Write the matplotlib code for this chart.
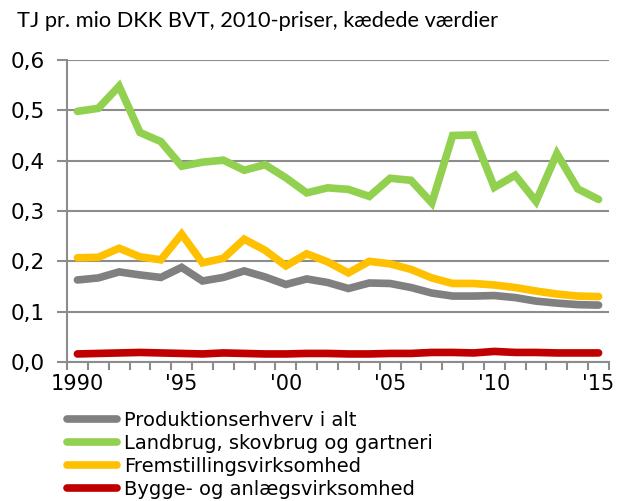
import numpy as np
import matplotlib
matplotlib.use("Agg")
import matplotlib.pyplot as plt

# data
years = list(range(1990, 2016))

produktion = [0.163, 0.167, 0.179, 0.173, 0.168, 0.188, 0.161, 0.168, 0.181, 0.169,
              0.154, 0.165, 0.158, 0.146, 0.157, 0.156, 0.148, 0.137, 0.131, 0.131,
              0.132, 0.128, 0.121, 0.117, 0.114, 0.113]
landbrug = [0.498, 0.504, 0.548, 0.456, 0.438, 0.389, 0.397, 0.401, 0.381, 0.392,
            0.366, 0.336, 0.346, 0.343, 0.329, 0.365, 0.361, 0.316, 0.450, 0.451,
            0.347, 0.371, 0.319, 0.414, 0.344, 0.323]
fremstilling = [0.207, 0.208, 0.226, 0.209, 0.203, 0.254, 0.197, 0.206, 0.244, 0.222,
                0.191, 0.215, 0.199, 0.177, 0.200, 0.195, 0.184, 0.167, 0.156, 0.156,
                0.153, 0.148, 0.141, 0.135, 0.131, 0.130]
bygge = [0.016, 0.017, 0.018, 0.019, 0.018, 0.017, 0.016, 0.018, 0.017, 0.016,
         0.016, 0.017, 0.017, 0.016, 0.016, 0.017, 0.017, 0.019, 0.019, 0.018,
         0.021, 0.019, 0.019, 0.018, 0.018, 0.018]

series_labels = ['Produktionserhverv i alt', 'Landbrug, skovbrug og gartneri',
                 'Fremstillingsvirksomhed', 'Bygge- og anlægsvirksomhed']
colors = ['#808080', '#92D050', '#FFC000', '#C00000']

tick_years = [1990, 1995, 2000, 2005, 2010, 2015]
tick_labels = ['1990', "'95", "'00", "'05", "'10", "'15"]
y_ticks = [0.0, 0.1, 0.2, 0.3, 0.4, 0.5, 0.6]

plt.rcParams['font.family'] = 'DejaVu Sans'

fig = plt.figure(figsize=(6.22, 5.01), dpi=100)
ax = fig.add_axes([67 / 622, 1 - 362 / 501, (609 - 67) / 622, (362 - 60) / 501])

grid_col = '#8c8c8c'
for vals, lab, col in zip([produktion, landbrug, fremstilling, bygge], series_labels, colors):
    ax.plot(years, vals, color=col, lw=5.5, label=lab,
            solid_capstyle='round', solid_joinstyle='miter', zorder=3)

ax.set_xlim(1989.5, 2015.5)
ax.set_ylim(0, 0.6)
ax.set_yticks(y_ticks)
ax.set_yticklabels([f'{v:.1f}'.replace('.', ',') for v in y_ticks])
ax.yaxis.grid(True, color=grid_col, lw=1.5, zorder=1)

ax.set_xticks(tick_years)
ax.set_xticklabels(tick_labels)
ax.set_xticks(np.arange(1989.5, 2016, 1), minor=True)
ax.tick_params(axis='x', which='major', length=0, pad=9, labelsize=15)
ax.tick_params(axis='x', which='minor', length=6, width=1.5, color=grid_col, direction='out')
ax.tick_params(axis='y', length=7, width=1.5, color=grid_col, labelsize=15.5, pad=9)

for s in ['top', 'right']:
    ax.spines[s].set_visible(False)
for s in ['left', 'bottom']:
    ax.spines[s].set_color(grid_col)
    ax.spines[s].set_linewidth(1.5)

fig.text(17 / 622, 1 - 21 / 501, 'TJ pr. mio DKK BVT, 2010-priser, kædede værdier',
         fontsize=15.7, family='Lato', va='center', ha='left')

fig.legend(loc='upper left', bbox_to_anchor=(67 / 622, 1 - 411 / 501), frameon=False,
           fontsize=14, handlelength=2.58, handletextpad=0.36, labelspacing=0.2,
           borderpad=0, borderaxespad=0)

plt.savefig('out.png', dpi=100)
